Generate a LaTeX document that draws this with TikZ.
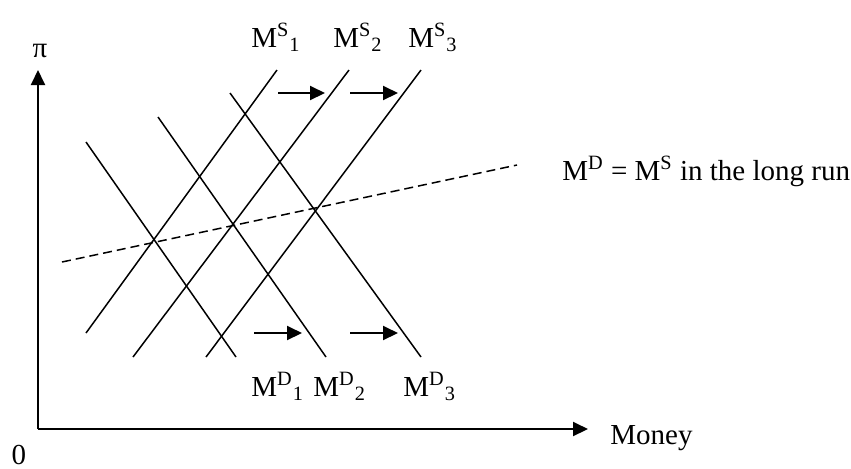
\documentclass[tikz,border=0pt]{standalone}
\usepackage{fontspec}
\setmainfont{Liberation Serif}
\usepackage{tikz}
\usetikzlibrary{arrows.meta}

\begin{document}
\begin{tikzpicture}[x=0.5pt,y=-0.5pt,
  every node/.style={font=\fontsize{14.5}{17}\selectfont,inner sep=0pt,anchor=base west},
  axis/.style={line width=1pt,-{Triangle[length=7.5pt,width=7pt]}},
  sched/.style={line width=0.75pt},
  shiftarrow/.style={line width=1pt,-{Triangle[length=7.5pt,width=7pt]}}]
  \useasboundingbox (0,0) rectangle (851,468);
  \coordinate (O) at (38,429);
  \draw[axis] (O) -- (38,70) coordinate (ytip);
  \draw[axis] (O) -- (588,429) coordinate (xtip);
  \node[anchor=base] (pi) at (40,57) {π};
  \node[anchor=base] (zero) at (19,464) {0};
  \node (money) at (610,444) {Money};
  % supply and demand schedules
  \draw[sched] (86,333) -- (277,70);
  \draw[sched] (133,357) -- (349,70);
  \draw[sched] (206,357) -- (421,70);
  \draw[sched] (86,142) -- (236,357);
  \draw[sched] (158,117) -- (326,357);
  \draw[sched] (230,93) -- (421,357);
  \draw[sched,dash pattern=on 4.5pt off 2.5pt] (62,262) -- (517,165);
  \draw[shiftarrow] (278,93) -- (325,93);
  \draw[shiftarrow] (350,93) -- (398,93);
  \draw[shiftarrow] (254,333) -- (302,333);
  \draw[shiftarrow] (350,333) -- (398,333);
  \node (ms1) at (251,47) {M\textsuperscript{S}\textsubscript{1}};
  \node (ms2) at (333,47) {M\textsuperscript{S}\textsubscript{2}};
  \node (ms3) at (408,47) {M\textsuperscript{S}\textsubscript{3}};
  \node (md1) at (251,396) {M\textsuperscript{D}\textsubscript{1}};
  \node (md2) at (313,396) {M\textsuperscript{D}\textsubscript{2}};
  \node (md3) at (403,396) {M\textsuperscript{D}\textsubscript{3}};
  \node (longrun) at (562,180) {M\textsuperscript{D} = M\textsuperscript{S} in the long run};
\end{tikzpicture}
\end{document}
